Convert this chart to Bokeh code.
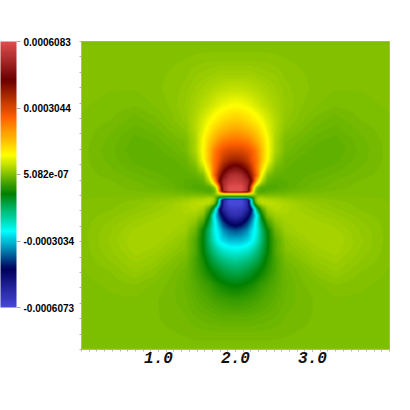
import numpy as np
from bokeh.embed import file_html
from bokeh.resources import INLINE
from bokeh.plotting import figure
from bokeh.models import LinearColorMapper, ColorBar, FixedTicker, Range1d, CustomJSTickFormatter, AllLabels

VMAX = 0.0006083
VMIN = -0.0006073
BAR_TICKS = [0.0006083, 0.0003044, 5.082e-07, -0.0003034, -0.0006073]
BAR_LABELS = ["0.0006083", "0.0003044", "5.082e-07", "-0.0003034", "-0.0006073"]
X_TICKS = [1.0, 2.0, 3.0]
X_LABELS = ["1.0", "2.0", "3.0"]
COLOR_STOPS = ["#4747db", "#00005c", "#00ffff", "#008000", "#ffff00", "#ff6100", "#6b0000", "#e04d4d"]

# Horizontal and vertical distance from the dipole centre, in data units x 77
U = [0, 6, 12, 16, 19, 22, 26, 32, 40, 50, 65, 80, 100, 125, 154]
V = [0, 2, 4, 8, 14, 20, 27, 35, 45, 55, 65, 75, 90, 105, 120, 138, 148, 154]
# Field for one quadrant, as a fraction of the maximum
Q = [
 [0, 0, 0, 0, 0, 0, 0, 0, 0, 0, 0, 0, 0, 0, 0],
 [.2, .2, .18, .12, .05, -.02, -.03, -.02, -.018, -.012, -.007, -.004, -.002, -.001, 0],
 [1, 1, .86, .4, .03, -.04, -.05, -.04, -.035, -.025, -.015, -.01, -.006, -.003, 0],
 [1, 1, .88, .45, .1, -.01, -.05, -.055, -.05, -.04, -.025, -.018, -.01, -.004, -.001],
 [.95, .93, .86, .71, .45, .22, .06, -.03, -.045, -.04, -.03, -.022, -.014, -.006, -.001],
 [.9, .88, .76, .63, .51, .39, .143, 0, -.03, -.035, -.033, -.028, -.02, -.01, -.002],
 [.78, .74, .65, .55, .45, .37, .22, .07, -.01, -.03, -.035, -.033, -.027, -.014, -.003],
 [.62, .6, .55, .47, .43, .38, .27, .143, .02, -.025, -.033, -.036, -.033, -.018, -.003],
 [.5, .5, .47, .44, .4, .35, .27, .15, .05, -.01, -.026, -.034, -.037, -.02, -.003],
 [.4, .39, .37, .34, .31, .28, .23, .145, .05, -.005, -.016, -.028, -.034, -.018, -.002],
 [.31, .3, .28, .26, .24, .22, .18, .12, .06, .01, -.006, -.019, -.027, -.013, -.001],
 [.24, .23, .21, .19, .175, .16, .135, .1, .06, .02, .004, -.01, -.02, -.007, 0],
 [.143, .138, .125, .115, .105, .095, .08, .065, .045, .025, .01, .002, -.006, -.002, .002],
 [.08, .078, .072, .068, .064, .06, .053, .045, .035, .02, .012, .006, .001, .001, .004],
 [.04, .04, .04, .038, .036, .034, .032, .028, .024, .015, .01, .006, .004, .004, .005],
 [.012, .012, .012, .012, .012, .012, .012, .012, .01, .008, .006, .005, .005, .005, .005],
 [.005, .005, .005, .005, .005, .005, .005, .005, .005, .005, .005, .005, .005, .005, .005],
 [-.004, -.004, -.004, -.004, -.004, -.004, -.004, -.004, -.004, -.004, -.004, -.004, -.004, -.004, -.004],
]
LOWER_LOBE_GAIN = 1.3

q = np.array(Q, dtype=float)
n = 308
centres = (np.arange(n) + 0.5 - n / 2)
by_row = np.array([np.interp(np.abs(centres), U, row) for row in q])
field = np.array([np.interp(np.abs(centres), V, col) for col in by_row.T]).T
lower = centres[:, None] < 0
field = np.where(lower & (field < 0), field * LOWER_LOBE_GAIN, field)
field = field * np.sign(centres)[:, None] * VMAX


def ramp(stops, m=256):
    rgb = np.array([[int(s[i:i + 2], 16) for i in (1, 3, 5)] for s in stops], float)
    pos = np.linspace(0, 1, len(stops))
    t = np.linspace(0, 1, m)
    out = np.column_stack([np.interp(t, pos, rgb[:, c]) for c in range(3)]).round().astype(int)
    return ["#%02x%02x%02x" % tuple(c) for c in out]


mapper = LinearColorMapper(palette=ramp(COLOR_STOPS), low=VMIN, high=VMAX)

p = figure(width=402, height=402, output_backend="svg", toolbar_location=None,
           x_range=Range1d(0, 4), y_range=Range1d(0, 4),
           min_border_left=81, min_border_right=13, min_border_top=41, min_border_bottom=53)
p.image(image=[field], x=0, y=0, dw=4, dh=4, color_mapper=mapper)
p.grid.visible = False
p.outline_line_color = "#b0b0b0"
p.outline_line_width = 1

p.xaxis.ticker = FixedTicker(ticks=X_TICKS, minor_ticks=[i / 10 for i in range(41)])
p.xaxis.major_label_overrides = {t: s for t, s in zip(X_TICKS, X_LABELS)}
p.xaxis.major_label_text_font = "Liberation Mono"
p.xaxis.major_label_text_font_style = "bold italic"
p.xaxis.major_label_text_font_size = "16px"
p.xaxis.major_label_text_color = "#111111"
p.xaxis.major_label_standoff = 0
p.xaxis.major_tick_in = 0
p.xaxis.major_tick_out = 2
p.xaxis.minor_tick_in = 0
p.xaxis.minor_tick_out = 2
p.xaxis.axis_line_color = "#b0b0b0"
p.xaxis.major_tick_line_color = "#b0b0b0"
p.xaxis.minor_tick_line_color = "#b0b0b0"

p.yaxis.ticker = FixedTicker(ticks=[], minor_ticks=[i / 5 for i in range(21)])
p.yaxis.major_label_text_font_size = "0px"
p.yaxis.major_tick_in = 0
p.yaxis.major_tick_out = 0
p.yaxis.minor_tick_in = 0
p.yaxis.minor_tick_out = 2
p.yaxis.axis_line_color = "#b0b0b0"
p.yaxis.minor_tick_line_color = "#b0b0b0"

fmt = CustomJSTickFormatter(args=dict(tv=BAR_TICKS, lb=BAR_LABELS), code="""
let best = 0;
for (let i = 0; i < tv.length; i++) {
  if (Math.abs(tv[i] - tick) < Math.abs(tv[best] - tick)) best = i;
}
return lb[best];
""")
bar = ColorBar(color_mapper=mapper, width=16, height=266, location=(-81, 42),
               padding=0, margin=0, background_fill_alpha=0,
               ticker=FixedTicker(ticks=BAR_TICKS), formatter=fmt,
               major_label_policy=AllLabels(),
               major_label_text_font="Liberation Sans",
               major_label_text_font_style="bold",
               major_label_text_font_size="10px",
               major_label_text_color="#000000",
               label_standoff=3,
               major_tick_line_color="#aaaaaa", major_tick_in=0, major_tick_out=4,
               minor_tick_line_color=None, bar_line_color=None)
p.add_layout(bar, "center")

open("out.html", "w").write(file_html(p, INLINE))
